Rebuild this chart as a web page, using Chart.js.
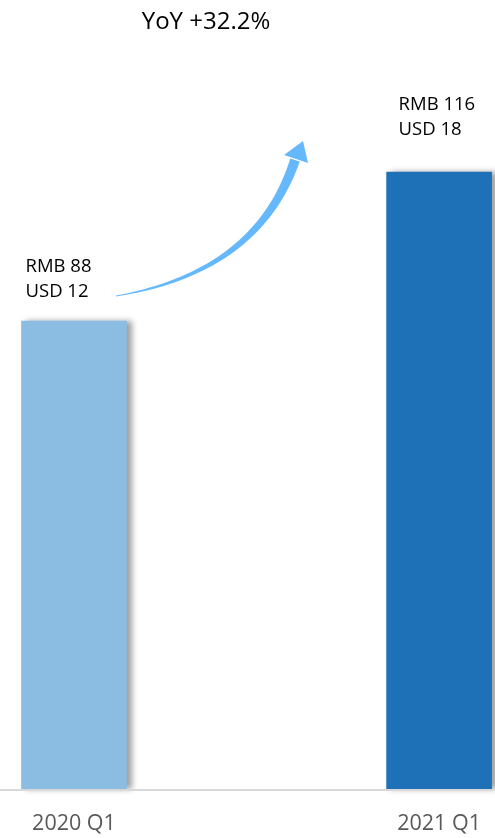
<!DOCTYPE html>
<html>
<head>
<meta charset="utf-8">
<script src="https://cdn.jsdelivr.net/npm/chart.js@4"></script>
<style>
  html, body { margin: 0; padding: 0; background: #fff; }
  #wrap { width: 495px; height: 838px; position: relative; }
</style>
</head>
<body>
<div id="wrap"><canvas id="revenueChart"></canvas></div>
<script>
const quarters = ["2020 Q1", "2021 Q1"];
const rmbValues = [88, 116];
const usdValues = [12, 18];
const yoyText = "YoY +32.2%";
const barColors = ["#8bbde2", "#1f71b7"];

const FONT = "'Open Sans', 'Noto Sans', sans-serif";

// label placement per bar (relative to bar left / top)
const labelOffsets = [
  { dx: 4, dy: -24 },
  { dx: 12, dy: -37 },
];

const decorPlugin = {
  id: "decor",
  beforeDatasetsDraw(chart) {
    const ctx = chart.ctx;
    ctx.save();
    ctx.shadowColor = "rgba(0,0,0,0.38)";
    ctx.shadowBlur = 6;
    ctx.shadowOffsetX = 5;
    ctx.shadowOffsetY = 0;
  },
  afterDatasetsDraw(chart) {
    const ctx = chart.ctx;
    ctx.restore();

    // bottom axis line
    const y0 = chart.scales.y.getPixelForValue(0);
    ctx.save();
    ctx.fillStyle = "#d9d9d9";
    ctx.fillRect(0, y0, 492, 2);
    ctx.restore();

    // labels above bars
    const bars = chart.getDatasetMeta(0).data;
    ctx.save();
    ctx.fillStyle = "#000";
    ctx.font = "18.5px " + FONT;
    ctx.textAlign = "left";
    ctx.textBaseline = "alphabetic";
    bars.forEach((bar, i) => {
      const left = bar.x - bar.width / 2 + labelOffsets[i].dx;
      const base = bar.y + labelOffsets[i].dy;
      ctx.fillText("RMB " + rmbValues[i], left, base - 25);
      ctx.fillText("USD " + usdValues[i], left, base);
    });

    // title
    ctx.font = "24px " + FONT;
    ctx.textAlign = "center";
    ctx.fillText(yoyText, 206, 29);
    ctx.restore();

    // curved growth arrow
    drawArrow(ctx);
  },
};

function drawArrow(ctx) {
  const p0 = { x: 116, y: 296 };
  const p1 = { x: 258, y: 272 };
  const p2 = { x: 295, y: 160 };
  const steps = 40;
  const upper = [];
  const lower = [];
  for (let s = 0; s <= steps; s++) {
    const t = s / steps;
    const x = (1 - t) * (1 - t) * p0.x + 2 * (1 - t) * t * p1.x + t * t * p2.x;
    const y = (1 - t) * (1 - t) * p0.y + 2 * (1 - t) * t * p1.y + t * t * p2.y;
    const dx = 2 * (1 - t) * (p1.x - p0.x) + 2 * t * (p2.x - p1.x);
    const dy = 2 * (1 - t) * (p1.y - p0.y) + 2 * t * (p2.y - p1.y);
    const len = Math.hypot(dx, dy);
    const nx = -dy / len;
    const ny = dx / len;
    const w = 0.5 + 4.5 * t;
    upper.push([x + nx * w, y + ny * w]);
    lower.push([x - nx * w, y - ny * w]);
  }
  ctx.save();
  ctx.fillStyle = "#66b8fd";
  ctx.beginPath();
  ctx.moveTo(upper[0][0], upper[0][1]);
  upper.forEach((p) => ctx.lineTo(p[0], p[1]));
  for (let i = lower.length - 1; i >= 0; i--) ctx.lineTo(lower[i][0], lower[i][1]);
  ctx.closePath();
  ctx.fill();

  // arrow head
  ctx.beginPath();
  ctx.moveTo(284, 155);
  ctx.lineTo(303, 141);
  ctx.lineTo(308, 163);
  ctx.closePath();
  ctx.fill();
  ctx.restore();
}

new Chart(document.getElementById("revenueChart"), {
  type: "bar",
  data: {
    labels: quarters,
    datasets: [
      {
        data: rmbValues,
        backgroundColor: barColors,
        borderWidth: 0,
        barThickness: 105,
        clip: false,
      },
    ],
  },
  options: {
    responsive: true,
    maintainAspectRatio: false,
    animation: false,
    layout: {
      padding: { top: 44.5, left: 74, right: 47, bottom: 0 },
    },
    plugins: {
      legend: { display: false },
      tooltip: { enabled: false },
    },
    scales: {
      x: {
        offset: false,
        grid: { display: false },
        border: { display: false },
        ticks: {
          color: "#595959",
          font: { family: FONT, size: 21.5 },
          padding: 14,
          maxRotation: 0,
        },
        afterFit(scale) {
          scale.height = 49;
        },
      },
      y: {
        display: false,
        min: 0,
        max: 140,
      },
    },
  },
  plugins: [decorPlugin],
});
</script>
</body>
</html>
